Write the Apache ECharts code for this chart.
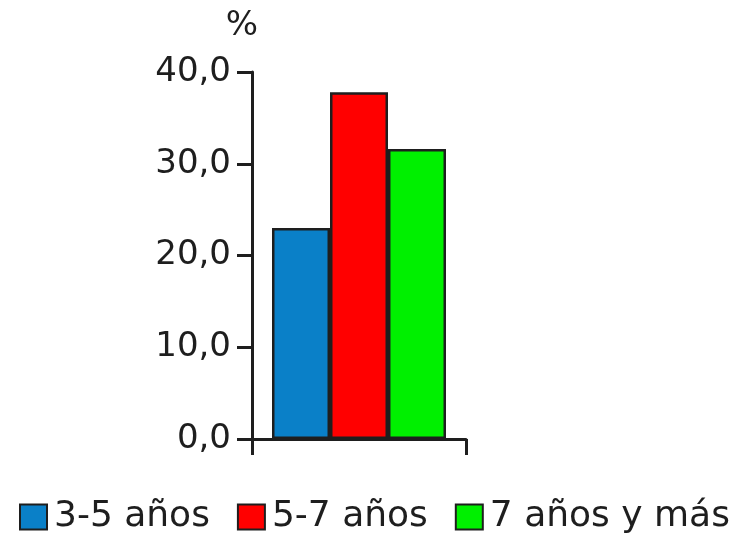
<!DOCTYPE html>
<html>
<head>
<meta charset="utf-8">
<script src="https://cdn.jsdelivr.net/npm/echarts@6/dist/echarts.min.js"></script>
<style>
  html, body { margin: 0; padding: 0; background: #fff; }
  #chart { width: 740px; height: 538px; }
</style>
</head>
<body>
<div id="chart"></div>
<script>
// Age groups and their share (%)
const groups = ['3-5 años', '5-7 años', '7 años y más'];
const values = [23.0, 37.8, 31.6];
const colors = ['#0a80c8', '#ff0000', '#00f000'];
const yTicks = { min: 0, max: 40, interval: 10 };

const FONT = 'DejaVu Sans';
const INK = '#1e1e1e';

const chart = echarts.init(document.getElementById('chart'), null, { renderer: 'canvas' });

const series = groups.map((g, i) => ({
  name: g,
  type: 'bar',
  data: [values[i]],
  barWidth: 58,
  barGap: '0%',
  itemStyle: { color: colors[i], borderColor: INK, borderWidth: 2.5 },
  emphasis: { disabled: true }
}));

chart.setOption({
  animation: false,
  backgroundColor: '#fff',
  grid: { left: 252, top: 72, width: 214, bottom: 99, containLabel: false },
  xAxis: {
    type: 'category',
    data: [''],
    boundaryGap: true,
    axisLine: { lineStyle: { color: INK, width: 3 } },
    axisTick: { show: true, length: 16, lineStyle: { color: INK, width: 3 } },
    axisLabel: { show: false },
    splitLine: { show: false }
  },
  yAxis: {
    type: 'value',
    min: yTicks.min,
    max: yTicks.max,
    interval: yTicks.interval,
    name: '%',
    nameLocation: 'end',
    nameGap: 29,
    nameTextStyle: { fontFamily: FONT, fontSize: 34, color: INK, align: 'center', padding: [0, 20, 0, 0] },
    axisLine: { show: true, lineStyle: { color: INK, width: 3 } },
    axisTick: { show: true, length: 15, lineStyle: { color: INK, width: 3 } },
    axisLabel: {
      margin: 21,
      fontFamily: FONT,
      fontSize: 34,
      color: INK,
      formatter: v => v.toFixed(1).replace('.', ',')
    },
    splitLine: { show: false }
  },
  legend: {
    data: groups,
    left: 14,
    top: 494,
    itemWidth: 27,
    itemHeight: 25,
    itemGap: 27,
    icon: 'rect',
    textStyle: { fontFamily: FONT, fontSize: 36, color: INK, padding: [0, 0, 0, 2] }
  },
  series: series
});
</script>
</body>
</html>
